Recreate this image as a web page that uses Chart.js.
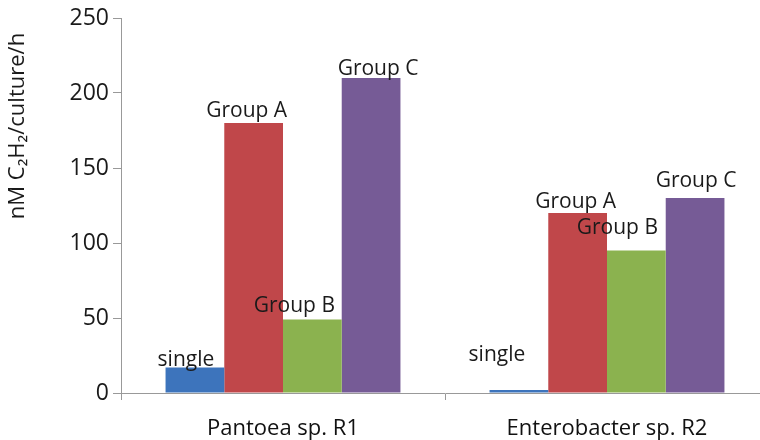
<!DOCTYPE html>
<html>
<head>
<meta charset="utf-8">
<script src="https://cdn.jsdelivr.net/npm/chart.js@4"></script>
<style>
  html, body { margin: 0; padding: 0; background: #fff; overflow: hidden; }
  #wrap { width: 770px; height: 440px; }
</style>
</head>
<body>
<div id="wrap"><canvas id="chart" width="770" height="440"></canvas></div>
<script>
// chart data
const categories = ['Pantoea sp. R1', 'Enterobacter sp. R2'];
const seriesNames = ['single', 'Group A', 'Group B', 'Group C'];
const singleVals = [17, 2];
const groupAVals = [180, 120];
const groupBVals = [49, 95];
const groupCVals = [210, 130];
const yTicks = [0, 50, 100, 150, 200, 250];
const yTitle = 'nM C₂H₂/culture/h';

const colors = ['#3D74BC', '#C0474A', '#8BB24F', '#765B96'];
const FONT = '"Open Sans", "Liberation Sans", sans-serif';

// label nudges [dx, dy] per dataset per category, like hand-placed Excel labels
const labelNudge = [
  [[-9, 3], [-22, -24]],
  [[-7, -1], [-2, 0]],
  [[-18, -3], [-19, -12]],
  [[7, 2], [1, -6]]
];

const barLabels = {
  id: 'barLabels',
  afterDatasetsDraw(chart) {
    const ctx = chart.ctx;
    ctx.save();
    ctx.font = '21px ' + FONT;
    ctx.fillStyle = '#1a1a1a';
    ctx.textAlign = 'center';
    ctx.textBaseline = 'alphabetic';
    chart.data.datasets.forEach((ds, i) => {
      chart.getDatasetMeta(i).data.forEach((bar, j) => {
        const n = labelNudge[i][j];
        ctx.fillText(ds.label, bar.x + n[0], bar.y - 5 + n[1]);
      });
    });
    ctx.restore();
  }
};

// y title sits in the upper part of the axis, not centered
const axisTitle = {
  id: 'axisTitle',
  afterDraw(chart) {
    const ctx = chart.ctx;
    ctx.save();
    ctx.font = '22px ' + FONT;
    ctx.fillStyle = '#1a1a1a';
    ctx.textAlign = 'center';
    ctx.textBaseline = 'middle';
    ctx.translate(18, 126);
    ctx.rotate(-Math.PI / 2);
    ctx.fillText(yTitle, 0, 0);
    ctx.restore();
  }
};

const allVals = [singleVals, groupAVals, groupBVals, groupCVals];

new Chart(document.getElementById('chart'), {
  type: 'bar',
  data: {
    labels: categories,
    datasets: seriesNames.map((name, i) => ({
      label: name,
      data: allVals[i],
      backgroundColor: colors[i],
      borderWidth: 0,
      categoryPercentage: 0.725,
      barPercentage: 1
    }))
  },
  plugins: [barLabels, axisTitle],
  options: {
    responsive: false,
    animation: false,
    layout: { padding: { top: 18, right: 1, left: 0, bottom: 0 } },
    plugins: { legend: { display: false }, tooltip: { enabled: false } },
    scales: {
      x: {
        grid: { offset: true, drawOnChartArea: false, color: '#999', tickLength: 7 },
        border: { color: '#999' },
        ticks: { color: '#111', font: { family: FONT, size: 22 }, padding: 16 },
        afterFit(scale) { scale.height = 47; }
      },
      y: {
        min: 0,
        max: 250,
        afterBuildTicks(scale) { scale.ticks = yTicks.map(v => ({ value: v })); },
        grid: { drawOnChartArea: false, color: '#999', tickLength: 8 },
        border: { color: '#999' },
        ticks: { color: '#1a1a1a', font: { family: FONT, size: 23 }, padding: 4 },
        afterFit(scale) { scale.width = 121; }
      }
    }
  }
});
</script>
</body>
</html>
